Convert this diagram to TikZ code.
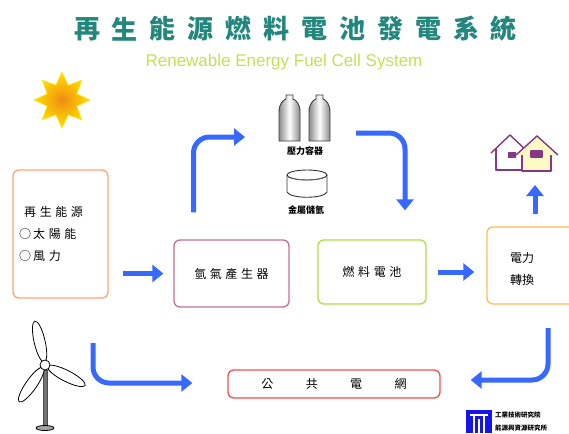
\documentclass[tikz,border=0pt]{standalone}
\usepackage{fontspec}
\usetikzlibrary{arrows.meta}
\newfontfamily\cjk{Noto Sans CJK TC}
\newfontfamily\subfont{Liberation Sans}
\definecolor{flowblue}{RGB}{55,105,255}
\definecolor{titleteal}{RGB}{35,135,125}
\definecolor{subgreen}{RGB}{195,225,85}
\definecolor{srcorange}{RGB}{255,165,110}
\definecolor{genpink}{RGB}{195,110,160}
\definecolor{fclime}{RGB}{175,220,70}
\definecolor{pcorange}{RGB}{255,190,90}
\definecolor{gridred}{RGB}{240,80,80}
\definecolor{housepurple}{RGB}{135,55,135}
\definecolor{houseyellow}{RGB}{255,250,195}
\definecolor{logoblue}{RGB}{20,20,235}
\tikzset{
  box/.style={draw, line width=1.3pt, rounded corners=6pt, fill=white, inner sep=0pt},
  boxtext/.style={font=\cjk\fontsize{12}{15}\selectfont\addfontfeature{LetterSpace=30}},
  flow/.style={draw=flowblue, line width=5pt, rounded corners=16pt,
    -{Triangle[length=11pt,width=17pt]}},
  bottle/.style={draw=black!75, line width=0.9pt, left color=black!45, right color=black!45, middle color=white},
  blade/.style={draw=black, line width=0.8pt, fill=white},
  tiny/.style={font=\cjk\fontsize{8}{10}\selectfont\bfseries, inner sep=0pt}
}
\begin{document}
\begin{tikzpicture}[x=1pt,y=-1pt]
\useasboundingbox (0,0) rectangle (569,433);
\fill[white] (0,0) rectangle (569,433);

% title and subtitle
\foreach \c [count=\i from 0] in {再,生,能,源,燃,料,電,池,發,電,系,統}
  \node[font=\cjk\fontsize{26}{28}\selectfont\bfseries, text=titleteal, inner sep=0pt]
    (t\i) at (87+37.9*\i,29) {\c};
\node[font=\subfont\fontsize{17}{20}\selectfont, text=subgreen, inner sep=0pt] (subtitle) at (284,62)
  {Renewable Energy Fuel Cell System};

% sun
\begin{scope}[shift={(62,100)}]
  \path[draw=yellow!90!orange, line width=0.5pt, shading=radial,
        inner color={rgb,255:red,240;green,140;blue,20}, outer color={rgb,255:red,255;green,225;blue,0}]
    (90:28) \foreach \k in {1,...,15} { -- ({90+22.5*\k}:{mod(\k,2)==1 ? 16 : 28}) } -- cycle;
\end{scope}

% process boxes
\node[box, draw=srcorange, minimum width=95pt, minimum height=128pt] (src) at (60.5,234) {};
\node[boxtext, anchor=west, inner sep=0pt] (srcA) at (24,212) {再生能源};
\node[boxtext, anchor=west, inner sep=0pt] (srcB) at (19,234) {○\,太陽能};
\node[boxtext, anchor=west, inner sep=0pt] (srcC) at (19,256) {○\,風力};

\node[box, draw=genpink, minimum width=115pt, minimum height=67pt, boxtext] (gen) at (231.5,273.5) {氫氣產生器};
\node[box, draw=fclime, minimum width=108pt, minimum height=64pt, boxtext] (fc) at (372,272) {燃料電池};
\node[box, draw=pcorange, minimum width=92pt, minimum height=77pt] (pc) at (533,265.5) {};
\node[font=\cjk\fontsize{12}{22}\selectfont, align=center, inner sep=0pt] (pctext) at (522,269) {電力\\轉換};
\node[box, draw=gridred, minimum width=212pt, minimum height=28pt,
      font=\cjk\fontsize{12}{15}\selectfont\addfontfeature{LetterSpace=270}] (grid) at (334,384) {公共電網\hspace{-32pt}};

% storage: pressure bottles and metal tank
\foreach \bx in {279,309} {
  \path[bottle] (\bx,141) -- (\bx,112) .. controls (\bx,104) and ({\bx+4},100) .. ({\bx+7},99)
    -- ({\bx+7},95) -- ({\bx+14},95) -- ({\bx+14},99)
    .. controls ({\bx+17},100) and ({\bx+21},104) .. ({\bx+21},112) -- ({\bx+21},141) -- cycle;
}
\coordinate (bottles) at (305,118);
\node[font=\cjk\fontsize{9}{10}\selectfont\bfseries, inner sep=0pt] (bottlelabel) at (305,151) {壓力容器};
\draw[black!80, line width=0.9pt, fill=white] (287,175) -- (287,192) .. controls (290,199) and (324,199) .. (327,192) -- (327,175);
\draw[black!80, line width=0.9pt, fill=white] (307,175) ellipse (20pt and 5pt);
\draw[black!60, line width=0.6pt] (290,177) .. controls (296,181) and (318,181) .. (324,177);
\node[font=\cjk\fontsize{9}{10}\selectfont\bfseries, inner sep=0pt] (tanklabel) at (306,210) {金屬儲氫};

% houses
\begin{scope}[draw=housepurple, line width=1.4pt, line join=round]
  \draw[fill=white] (491,153) -- (510,135) -- (529,153);
  \draw (496,149) -- (496,170) -- (522,170);
  \fill[housepurple] (508,152) rectangle (516,158);
  \draw[fill=houseyellow] (522,149) -- (522,171) -- (551,171) -- (551,149);
  \draw[fill=houseyellow] (516,155) -- (537,136) -- (558,155);
  \draw[fill=housepurple] (531,151) rectangle (542,157);
\end{scope}
\coordinate (houses) at (535,172);

% wind turbine
\coordinate (hub) at (45,365);
\fill[black!55] (43.5,370) rectangle (47.5,426);
\draw[black!70, line width=0.5pt] (43.5,370) rectangle (47.5,426);
\draw[black, line width=0.8pt, fill=black!35] (45,428) ellipse (9pt and 2.5pt);
\foreach \a in {13,145,243}
  \draw[blade, shift={(hub)}, rotate=\a] (0,-24) ellipse (5.5pt and 21pt);
\draw[black, line width=0.8pt, fill=white] (hub) circle (5pt);

% flows
\draw[flow] ([xshift=14pt]src.east |- gen.west) -- ([xshift=-10pt]gen.west);
\draw[flow] ([xshift=-38pt,yshift=27pt]gen.north) |- ([xshift=-60pt,yshift=-19pt]bottles);
\draw[flow] ([xshift=51pt,yshift=-15pt]bottles) -| ([xshift=33pt,yshift=29pt]fc.north);
\draw[flow] ([xshift=11pt]fc.east) -- ([xshift=-12pt]pc.west |- fc.east);
\draw[flow] ([xshift=2pt,yshift=12pt]pc.north) -- ([yshift=-13pt]houses);
\coordinate (windout) at (93,343);
\coordinate (pcout) at (548,328);
\draw[flow] (windout) |- ([xshift=-35pt,yshift=1pt]grid.west);
\draw[flow] (pcout) |- ([xshift=30pt,yshift=4pt]grid.east);

% institute logo
\fill[logoblue] (466,410) rectangle (492,433);
\draw[white, line width=1.6pt] (470,415) -- (488,415) (474,415) -- (474,433) (484,415) -- (484,433) (479,419) -- (479,433);
\node[tiny, anchor=west] (logoA) at (495,415) {\fontsize{6.5}{7}\selectfont 工業技術研究院};
\node[tiny, anchor=west] (logoB) at (495,428) {\fontsize{6.5}{7}\selectfont 能源與資源研究所};
\end{tikzpicture}
\end{document}
